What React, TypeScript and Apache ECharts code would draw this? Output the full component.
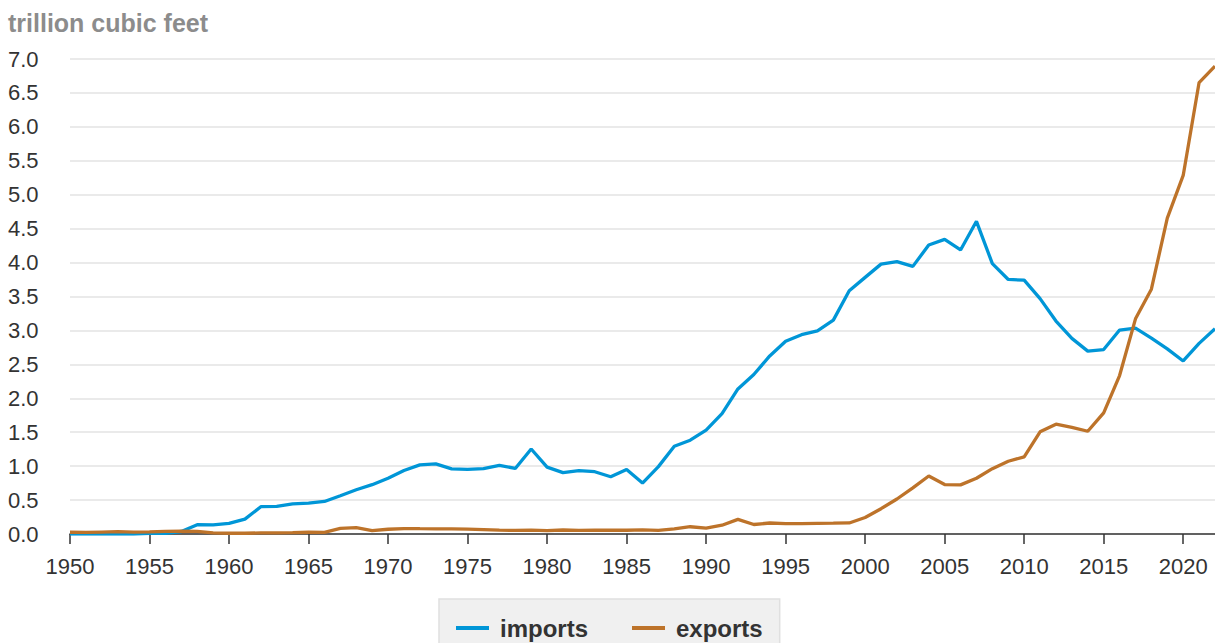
import React, { useEffect, useRef } from "react";
import * as echarts from "echarts";

const years: number[] = [];
for (let y = 1950; y <= 2022; y++) years.push(y);

const imports: number[] = [
  0.0, 0.0, 0.0, 0.0, 0.0, 0.011, 0.010, 0.037, 0.136, 0.134,
  0.156, 0.219, 0.402, 0.406, 0.443, 0.456, 0.480, 0.564, 0.652, 0.727,
  0.821, 0.935, 1.019, 1.033, 0.959, 0.953, 0.964, 1.011, 0.966, 1.253,
  0.985, 0.904, 0.933, 0.918, 0.843, 0.950, 0.750, 0.993, 1.294, 1.382,
  1.532, 1.773, 2.138, 2.350, 2.624, 2.841, 2.937, 2.994, 3.152, 3.586,
  3.782, 3.977, 4.015, 3.944, 4.259, 4.341, 4.186, 4.608, 3.984, 3.751,
  3.741, 3.469, 3.138, 2.883, 2.695, 2.718, 3.006, 3.033, 2.887, 2.729,
  2.550, 2.809, 3.025,
];

const exports: number[] = [
  0.026, 0.024, 0.029, 0.034, 0.027, 0.031, 0.040, 0.042, 0.039, 0.018,
  0.011, 0.011, 0.016, 0.017, 0.020, 0.026, 0.025, 0.082, 0.094, 0.051,
  0.070, 0.080, 0.078, 0.077, 0.077, 0.073, 0.065, 0.056, 0.053, 0.056,
  0.049, 0.059, 0.052, 0.055, 0.055, 0.055, 0.061, 0.054, 0.074, 0.107,
  0.086, 0.129, 0.216, 0.140, 0.162, 0.154, 0.153, 0.157, 0.159, 0.163,
  0.244, 0.373, 0.516, 0.680, 0.854, 0.729, 0.724, 0.822, 0.963, 1.072,
  1.137, 1.506, 1.619, 1.572, 1.514, 1.784, 2.335, 3.171, 3.608, 4.656,
  5.284, 6.653, 6.893,
];

const xTicks: number[] = [1950, 1955, 1960, 1965, 1970, 1975, 1980, 1985, 1990, 1995, 2000, 2005, 2010, 2015, 2020];
const unitLabel = "trillion cubic feet";

const FONT = "'Liberation Sans', Arial, Helvetica, sans-serif";

export default function App() {
  const ref = useRef<HTMLDivElement>(null);
  useEffect(() => {
    if (!ref.current) return;
    const chart = echarts.init(ref.current, undefined, { renderer: "svg" });
    chart.setOption({
      animation: false,
      backgroundColor: "#ffffff",
      textStyle: { fontFamily: FONT },
      title: {
        text: unitLabel,
        left: 3,
        top: 5,
        textStyle: { fontFamily: FONT, fontSize: 25, fontWeight: "bold", color: "#8c8c8c" },
      },
      grid: { left: 70, right: 0, top: 59, bottom: 109, containLabel: false },
      legend: {
        left: 439,
        top: 599,
        icon: "rect",
        itemWidth: 33,
        itemHeight: 4,
        itemGap: 44,
        padding: [17, 17, 17, 17],
        backgroundColor: "#f0f0f0",
        borderColor: "#e0e0e0",
        borderWidth: 1.5,
        textStyle: { fontFamily: FONT, fontSize: 24, fontWeight: "bold", color: "#333333", padding: [0, 0, 0, 6] },
        data: ["imports", "exports"],
      },
      xAxis: {
        type: "value",
        min: 1950,
        max: 2022,
        interval: 5,
        axisLine: { show: true, lineStyle: { color: "#333333", width: 1.5 } },
        axisTick: { show: true, length: 10, lineStyle: { color: "#333333", width: 1.5 }, customValues: xTicks },
        axisLabel: {
          customValues: xTicks,
          formatter: (v: number) => String(v),
          fontFamily: FONT,
          fontSize: 22,
          color: "#333333",
          margin: 21,
        },
        splitLine: { show: false },
      },
      yAxis: {
        type: "value",
        min: 0,
        max: 7,
        interval: 0.5,
        axisLine: { show: false },
        axisTick: { show: false },
        axisLabel: {
          formatter: (v: number) => v.toFixed(1),
          fontFamily: FONT,
          fontSize: 22,
          color: "#333333",
          align: "left",
          margin: 62,
        },
        splitLine: { show: true, lineStyle: { color: "#e3e3e3", width: 1.5 } },
      },
      series: [
        {
          name: "imports",
          type: "line",
          data: years.map((y, i) => [y, imports[i]]),
          showSymbol: false,
          symbol: "none",
          lineStyle: { color: "#0096d7", width: 3.3 },
          itemStyle: { color: "#0096d7" },
          z: 3,
        },
        {
          name: "exports",
          type: "line",
          data: years.map((y, i) => [y, exports[i]]),
          showSymbol: false,
          symbol: "none",
          lineStyle: { color: "#bd732a", width: 3.3 },
          itemStyle: { color: "#bd732a" },
          z: 4,
        },
      ],
    });
    return () => chart.dispose();
  }, []);
  return <div ref={ref} style={{ position: "fixed", left: 0, top: 0, width: 1215, height: 643 }} />;
}
